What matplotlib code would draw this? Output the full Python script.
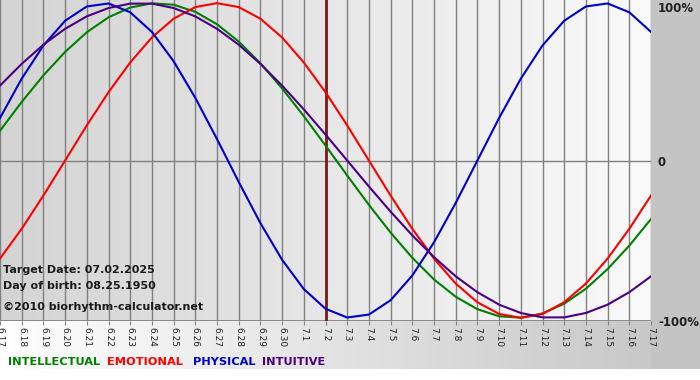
import matplotlib.pyplot as plt
import numpy as np
from matplotlib.colors import LinearSegmentedColormap

# day labels from 6.17 to 7.17
days = ["6.17", "6.18", "6.19", "6.20", "6.21", "6.22", "6.23", "6.24", "6.25", "6.26",
        "6.27", "6.28", "6.29", "6.30", "7.1", "7.2", "7.3", "7.4", "7.5", "7.6",
        "7.7", "7.8", "7.9", "7.10", "7.11", "7.12", "7.13", "7.14", "7.15", "7.16", "7.17"]
target_day = "7.2"

# cycle values per day (-1 .. 1)
physical = [0.270, 0.520, 0.731, 0.888, 0.979, 0.998, 0.942, 0.817, 0.631, 0.398,
            0.136, -0.136, -0.398, -0.631, -0.817, -0.942, -0.998, -0.979, -0.888, -0.731,
            -0.520, -0.270, 0.0, 0.270, 0.520, 0.731, 0.888, 0.979, 0.998, 0.942, 0.817]
emotional = [-0.623, -0.434, -0.223, 0.0, 0.223, 0.434, 0.623, 0.782, 0.901, 0.975,
             1.0, 0.975, 0.901, 0.782, 0.623, 0.434, 0.223, 0.0, -0.223, -0.434,
             -0.623, -0.782, -0.901, -0.975, -1.0, -0.975, -0.901, -0.782, -0.623, -0.434, -0.223]
intellectual = [0.189, 0.372, 0.541, 0.690, 0.815, 0.910, 0.972, 0.999, 0.990, 0.945,
                0.866, 0.756, 0.618, 0.458, 0.282, 0.095, -0.095, -0.282, -0.458, -0.618,
                -0.756, -0.866, -0.945, -0.990, -0.999, -0.972, -0.910, -0.815, -0.690, -0.541, -0.372]
intuitive = [0.476, 0.614, 0.736, 0.837, 0.916, 0.969, 0.997, 0.997, 0.969, 0.916,
             0.837, 0.736, 0.614, 0.476, 0.325, 0.165, 0.0, -0.165, -0.325, -0.476,
             -0.614, -0.736, -0.837, -0.916, -0.969, -0.997, -0.997, -0.969, -0.916, -0.837, -0.736]

W, H = 700, 380
fig = plt.figure(figsize=(7, 3.8), dpi=100)

# figure background: white -> gray gradient, white strip at bottom
bg = fig.add_axes([0, 0, 1, 1])
bg_cmap = LinearSegmentedColormap.from_list("bg", ["#ffffff", "#c4c4c4"])
bg.imshow(np.linspace(0, 1, 256)[None, :], aspect="auto", cmap=bg_cmap,
          extent=[0, 1, 11/H, 1])
bg.set_xlim(0, 1)
bg.set_ylim(0, 1)
bg.axvspan(651/W, 1, ymin=11/H, ymax=1, color="#c4c4c4", lw=0)
bg.axis("off")

ax = fig.add_axes([0, (H-321)/H, 651/W, 321/H])
x = np.arange(len(days))
pa_cmap = LinearSegmentedColormap.from_list("pa", ["#d4d4d4", "#fafafa"])
ax.imshow(np.linspace(0, 1, 256)[None, :], aspect="auto", cmap=pa_cmap,
          extent=[0, len(days)-1, -1.02, 1.02], zorder=0)

for xi in x:
    ax.axvline(xi, color="#808080", lw=1, zorder=1)
ax.axhline(0, color="#808080", lw=1, zorder=1)
ax.axhline(-1.02, color="#808080", lw=2, zorder=1)
ax.axvline(days.index(target_day), color="#7a1a1a", lw=2, zorder=2)

ax.plot(x, intellectual, color="#008000", lw=1.5, zorder=3)
ax.plot(x, emotional, color="#ff0000", lw=1.5, zorder=3)
ax.plot(x, physical, color="#0000cc", lw=1.5, zorder=3)
ax.plot(x, intuitive, color="#4b0082", lw=1.5, zorder=3)

ax.set_xlim(0, len(days)-1)
ax.set_ylim(-1.02, 1.02)
ax.set_xticks(x)
ax.set_xticklabels(days, rotation=270, fontsize=6.5, color="#202020")
ax.tick_params(axis="x", length=3, color="#808080", pad=1)
ax.set_yticks([])
for s in ax.spines.values():
    s.set_visible(False)

# percent labels on the right margin
for txt, yp in [("100%", 8), ("0", 162), ("-100%", 322)]:
    fig.text(658/W, 1 - yp/H, txt, ha="left", va="center",
             fontsize=8.5, fontweight="bold", color="#202020")

info = [("Target Date: 07.02.2025", 270), ("Day of birth: 08.25.1950", 286),
        ("\u00a92010 biorhythm-calculator.net", 307)]
for txt, yp in info:
    fig.text(3/W, 1 - yp/H, txt, ha="left", va="center", fontsize=8,
             fontweight="bold", color="#1a1a1a")

legend = [("INTELLECTUAL", "#008000", 8), ("EMOTIONAL", "#ff0000", 107),
          ("PHYSICAL", "#0000cc", 193), ("INTUITIVE", "#4b0082", 262)]
for txt, col, xp in legend:
    fig.text(xp/W, 1 - 362/H, txt, ha="left", va="center", fontsize=8.2,
             fontweight="bold", color=col)

fig.savefig("out.png", dpi=100)
